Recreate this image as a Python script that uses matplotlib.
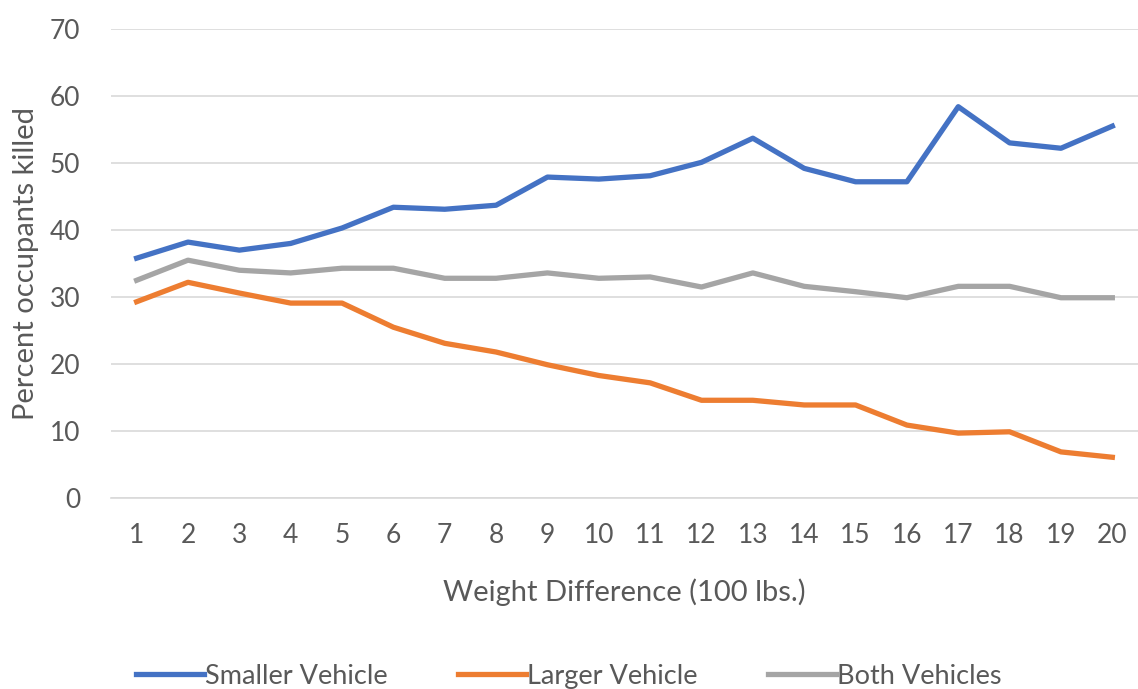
import numpy as np
import matplotlib.pyplot as plt

plt.rcParams['font.family'] = ['Lato', 'DejaVu Sans']

weight_diff = list(range(1, 21))
smaller = [35.8, 38.2, 37.0, 38.0, 40.3, 43.4, 43.1, 43.7, 47.9, 47.6,
           48.1, 50.1, 53.7, 49.2, 47.2, 47.2, 58.4, 53.0, 52.2, 55.5]
larger = [29.3, 32.2, 30.6, 29.1, 29.1, 25.5, 23.1, 21.8, 19.9, 18.3,
          17.2, 14.6, 14.6, 13.9, 13.9, 10.9, 9.7, 9.9, 6.9, 6.1]
both = [32.5, 35.5, 34.0, 33.6, 34.3, 34.3, 32.8, 32.8, 33.6, 32.8,
        33.0, 31.5, 33.6, 31.6, 30.8, 29.9, 31.6, 31.6, 29.9, 29.9]

fig = plt.figure(figsize=(11.38, 6.89), dpi=100)
ax = fig.add_axes([0.0975, 0.277, 0.9025, 0.681])

lw = 3.8
ax.plot(weight_diff, smaller, color='#4472C4', lw=lw, label='Smaller Vehicle')
ax.plot(weight_diff, larger, color='#ED7D31', lw=lw, label='Larger Vehicle')
ax.plot(weight_diff, both, color='#A5A5A5', lw=lw, label='Both Vehicles')

ax.set_xlim(0.5, 20.5)
ax.set_ylim(0, 70)
ax.set_yticks(range(0, 71, 10))
ax.set_xticks(weight_diff)
ax.grid(axis='y', color='#D9D9D9', lw=1.2)
ax.set_axisbelow(True)
for s in ['top', 'right', 'left']:
    ax.spines[s].set_visible(False)
ax.spines['bottom'].set_color('#D9D9D9')
ax.spines['bottom'].set_linewidth(1.2)
ax.tick_params(length=0, labelsize=19, colors='#595959', pad=18)
ax.tick_params(axis='y', pad=22)

ax.set_xlabel('Weight Difference (100 lbs.)', fontsize=21, color='#595959', labelpad=22)
ax.set_ylabel('Percent occupants killed', fontsize=21, color='#595959', labelpad=8)

fig.legend(loc='lower center', bbox_to_anchor=(0.5, -0.035), ncol=3, frameon=False,
           fontsize=19.5, labelcolor='#595959', handlelength=2.5, handletextpad=0.05,
           columnspacing=2.6)

fig.savefig('out.png', dpi=100)
